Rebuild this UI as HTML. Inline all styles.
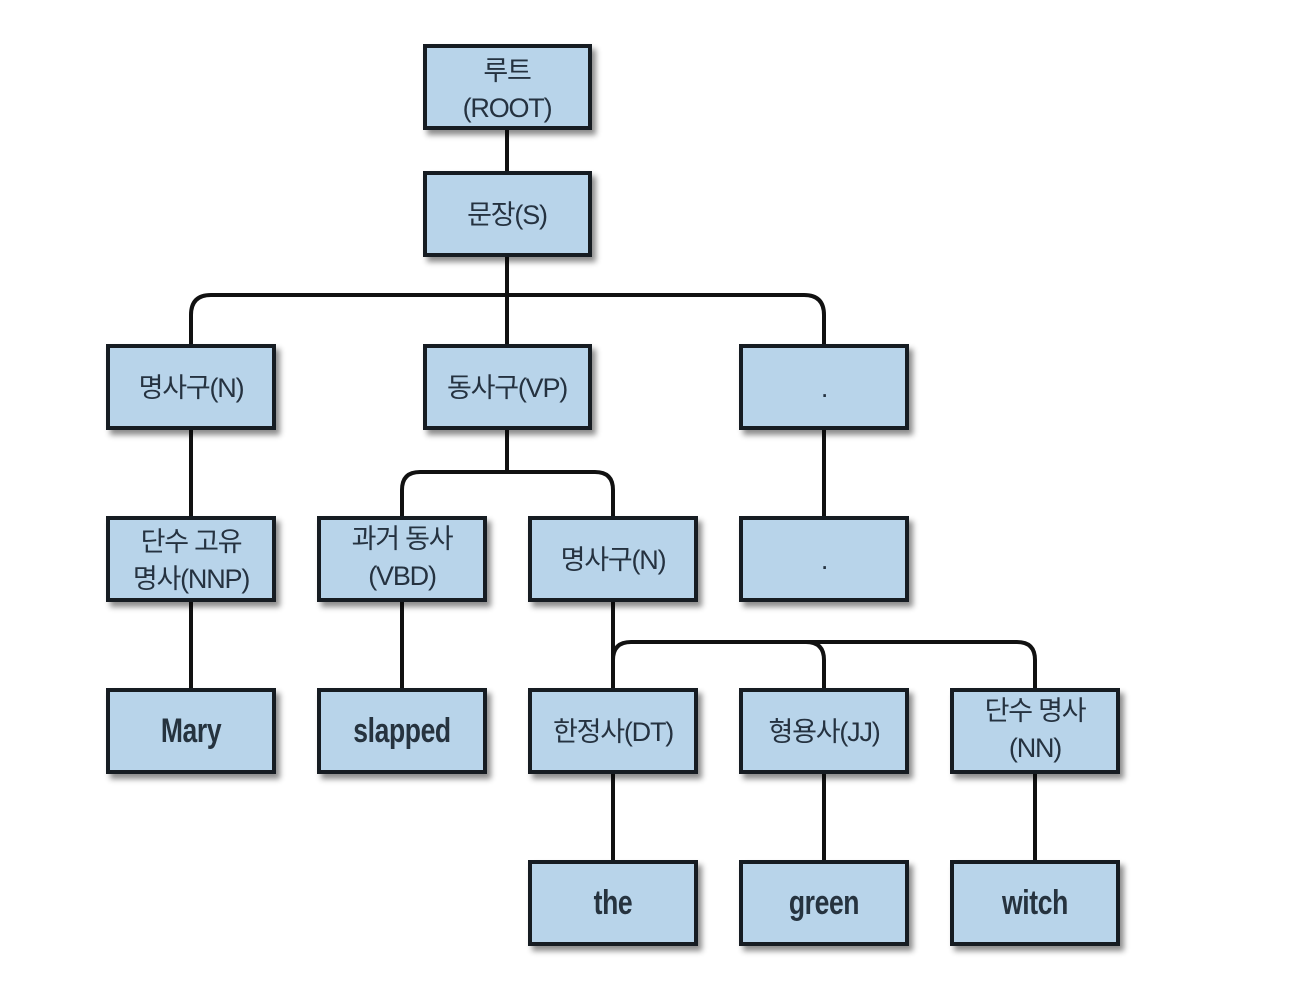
<!DOCTYPE html>
<html><head><meta charset="utf-8"><style>
html,body{margin:0;padding:0;background:#fff;width:1289px;height:1000px;overflow:hidden}
text{font-family:"Liberation Sans","Noto Sans CJK KR",sans-serif;font-size:27px;fill:#253240;text-anchor:middle;letter-spacing:-1.2px}
text.w{font-size:34px;letter-spacing:-0.5px;font-weight:bold;fill:#26333f}
</style></head><body>
<svg width="1289" height="1000" viewBox="0 0 1289 1000" xmlns="http://www.w3.org/2000/svg">
<defs>
<filter id="sh" x="-10%" y="-10%" width="130%" height="140%">
<feDropShadow dx="4" dy="5" stdDeviation="3" flood-color="#000" flood-opacity="0.45"/>
</filter>
</defs>
<g fill="none" stroke="#111" stroke-width="4">
<line x1="507" y1="128" x2="507" y2="173"/>
<line x1="507" y1="255" x2="507" y2="346"/>
<path d="M191 346 V315 Q191 295 211 295 H804 Q824 295 824 315 V346"/>
<line x1="191" y1="428" x2="191" y2="518"/>
<line x1="824" y1="428" x2="824" y2="518"/>
<line x1="507" y1="428" x2="507" y2="472"/>
<path d="M402 518 V490 Q402 472 420 472 H595 Q613 472 613 490 V518"/>
<line x1="191" y1="600" x2="191" y2="690"/>
<line x1="402" y1="600" x2="402" y2="690"/>
<line x1="613" y1="600" x2="613" y2="690"/>
<path d="M613 690 V660 Q613 642 631 642 H806 Q824 642 824 660 V690"/>
<path d="M806 642 H1017 Q1035 642 1035 660 V690"/>
<line x1="613" y1="772" x2="613" y2="862"/>
<line x1="824" y1="772" x2="824" y2="862"/>
<line x1="1035" y1="772" x2="1035" y2="862"/>
</g>
<g fill="#b8d4ea" stroke="#151a20" stroke-width="4" filter="url(#sh)">
<rect x="425" y="46" width="165" height="82"/>
<rect x="425" y="173" width="165" height="82"/>
<rect x="108" y="346" width="166" height="82"/>
<rect x="425" y="346" width="165" height="82"/>
<rect x="741" y="346" width="166" height="82"/>
<rect x="108" y="518" width="166" height="82"/>
<rect x="319" y="518" width="166" height="82"/>
<rect x="530" y="518" width="166" height="82"/>
<rect x="741" y="518" width="166" height="82"/>
<rect x="108" y="690" width="166" height="82"/>
<rect x="319" y="690" width="166" height="82"/>
<rect x="530" y="690" width="166" height="82"/>
<rect x="741" y="690" width="166" height="82"/>
<rect x="952" y="690" width="166" height="82"/>
<rect x="530" y="862" width="166" height="82"/>
<rect x="741" y="862" width="166" height="82"/>
<rect x="952" y="862" width="166" height="82"/>
</g>
<text x="507" y="80">루트</text>
<text x="507" y="117">(ROOT)</text>
<text x="507" y="224">문장(S)</text>
<text x="191" y="397">명사구(N)</text>
<text x="507" y="397">동사구(VP)</text>
<text x="824" y="397">.</text>
<text x="191" y="551">단수 고유</text>
<text x="191" y="588">명사(NNP)</text>
<text x="402" y="548">과거 동사</text>
<text x="402" y="585">(VBD)</text>
<text x="613" y="569">명사구(N)</text>
<text x="824" y="569">.</text>
<g transform="scale(0.78,1)">
<text class="w" x="244.9" y="742">Mary</text>
<text class="w" x="515.4" y="742">slapped</text>
<text class="w" x="785.9" y="914">the</text>
<text class="w" x="1056.4" y="914">green</text>
<text class="w" x="1326.9" y="914">witch</text>
</g>
<text x="613" y="741">한정사(DT)</text>
<text x="824" y="741">형용사(JJ)</text>
<text x="1035" y="720">단수 명사</text>
<text x="1035" y="757">(NN)</text>
</svg>
</body></html>
